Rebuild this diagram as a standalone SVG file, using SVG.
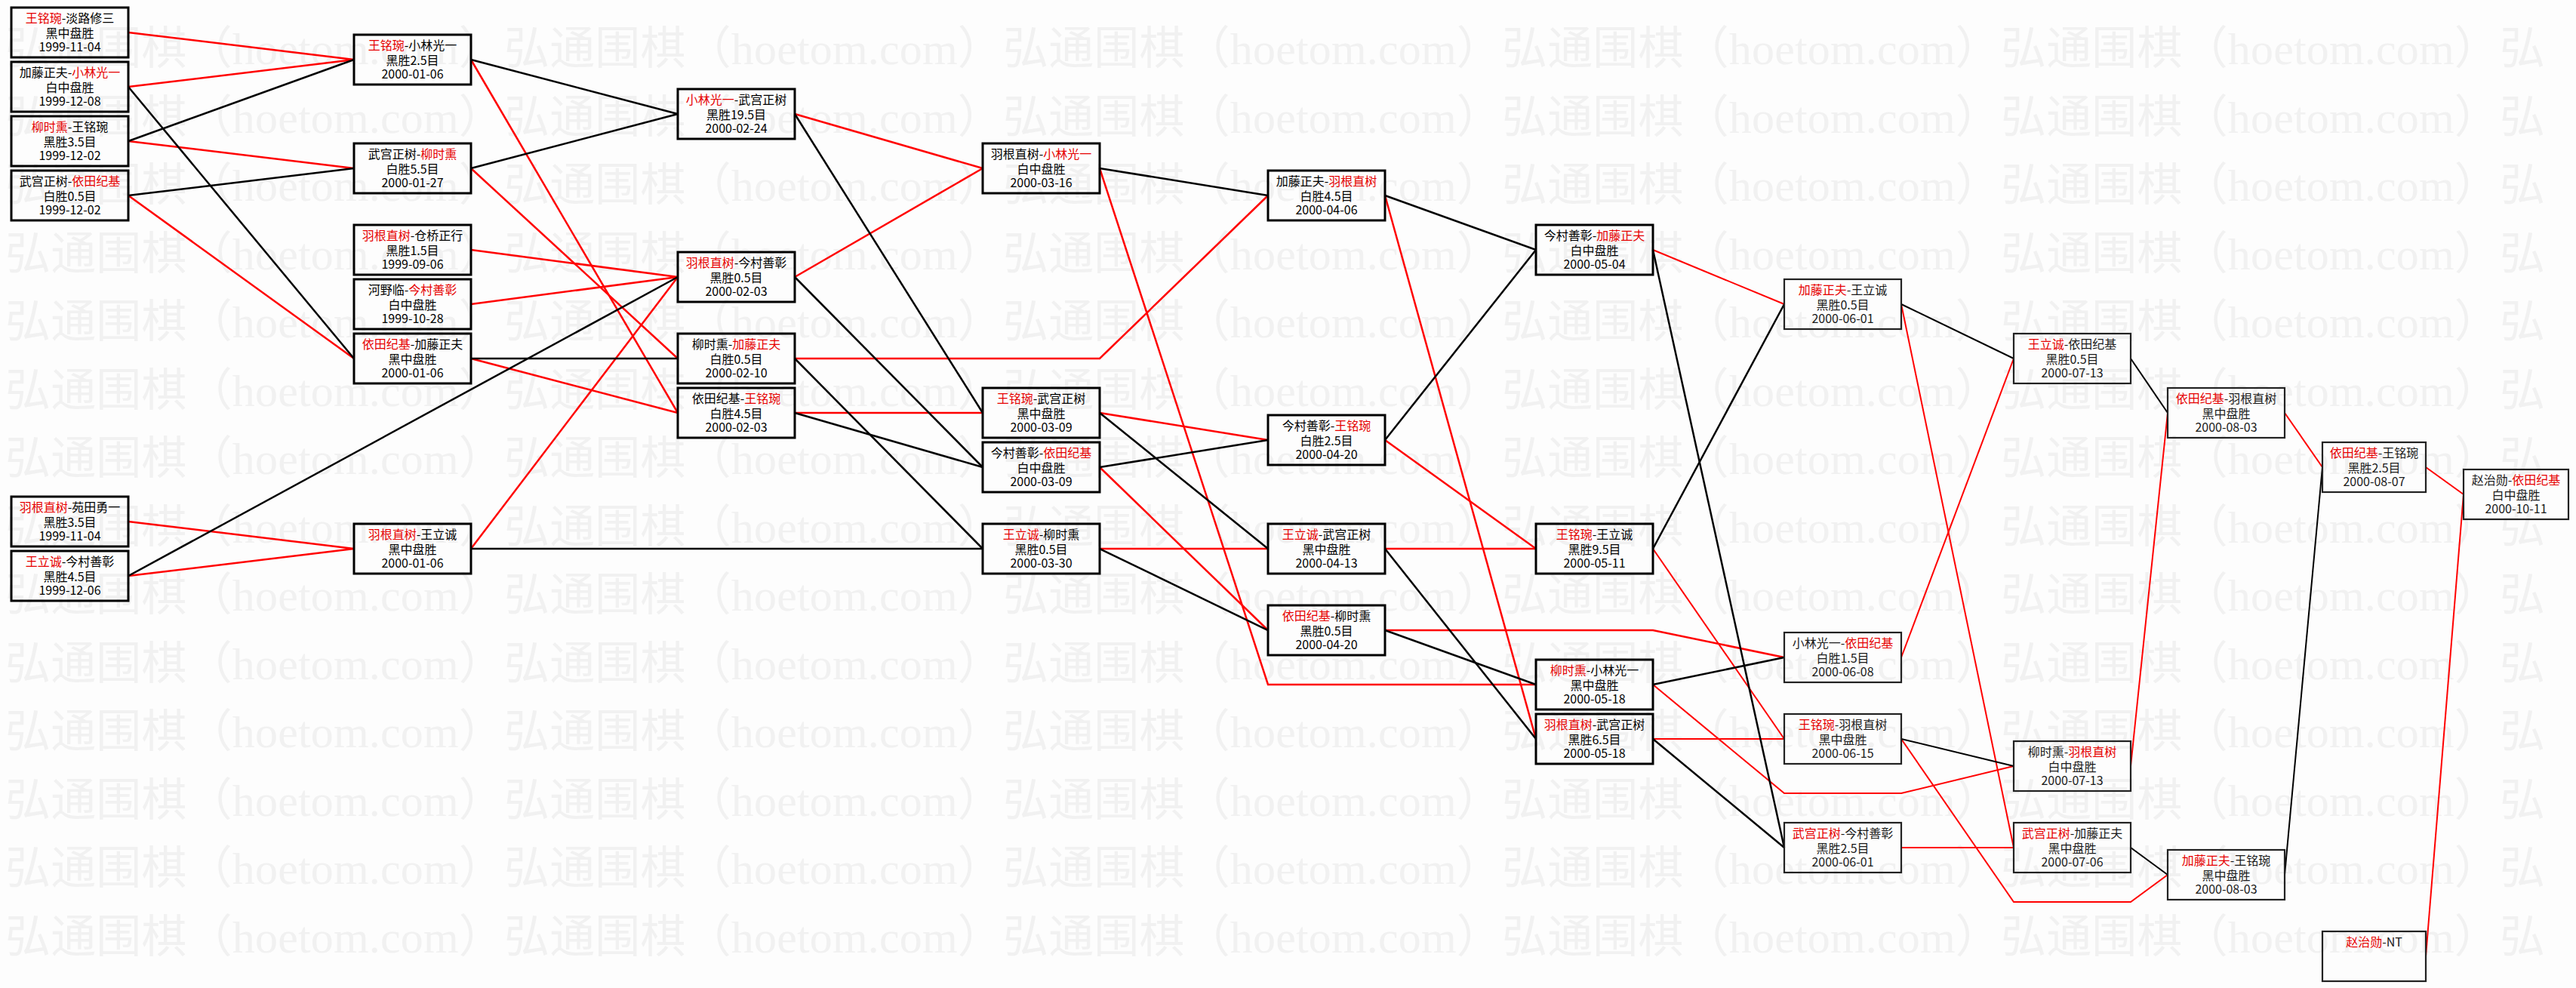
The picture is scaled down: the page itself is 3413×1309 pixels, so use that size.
<svg xmlns="http://www.w3.org/2000/svg" width="3413" height="1309" viewBox="0 0 3413 1309">
<style>
.bg{fill:#fdfdfd}
.wm{font-family:"Liberation Serif","Noto Sans CJK SC",serif;font-size:60px;fill:#f1f1f1}
.b1{fill:none;stroke:#000;stroke-width:3}
.b2{fill:none;stroke:#222;stroke-width:2.2}
.t{font-family:"Noto Sans CJK SC",sans-serif;font-size:16px;text-anchor:middle;fill:#000}
.t2{font-family:"Noto Sans CJK SC",sans-serif;font-size:16px;text-anchor:middle;fill:#1a1a1a}
.r{fill:#e60000}
.lr{fill:none;stroke:#f00;stroke-width:2.5;stroke-linejoin:miter}
.lb{fill:none;stroke:#000;stroke-width:2.5}
.lr2{fill:none;stroke:#f00;stroke-width:2}
.lb2{fill:none;stroke:#000;stroke-width:2}
</style>
<rect class="bg" x="0" y="0" width="3413" height="1309"/>
<g id="watermark">
<text class="wm" x="7" y="85" textLength="3365" lengthAdjust="spacing">弘通围棋（hoetom.com）弘通围棋（hoetom.com）弘通围棋（hoetom.com）弘通围棋（hoetom.com）弘通围棋（hoetom.com）弘</text>
<text class="wm" x="7" y="175.5" textLength="3365" lengthAdjust="spacing">弘通围棋（hoetom.com）弘通围棋（hoetom.com）弘通围棋（hoetom.com）弘通围棋（hoetom.com）弘通围棋（hoetom.com）弘</text>
<text class="wm" x="7" y="266" textLength="3365" lengthAdjust="spacing">弘通围棋（hoetom.com）弘通围棋（hoetom.com）弘通围棋（hoetom.com）弘通围棋（hoetom.com）弘通围棋（hoetom.com）弘</text>
<text class="wm" x="7" y="356.5" textLength="3365" lengthAdjust="spacing">弘通围棋（hoetom.com）弘通围棋（hoetom.com）弘通围棋（hoetom.com）弘通围棋（hoetom.com）弘通围棋（hoetom.com）弘</text>
<text class="wm" x="7" y="447" textLength="3365" lengthAdjust="spacing">弘通围棋（hoetom.com）弘通围棋（hoetom.com）弘通围棋（hoetom.com）弘通围棋（hoetom.com）弘通围棋（hoetom.com）弘</text>
<text class="wm" x="7" y="537.5" textLength="3365" lengthAdjust="spacing">弘通围棋（hoetom.com）弘通围棋（hoetom.com）弘通围棋（hoetom.com）弘通围棋（hoetom.com）弘通围棋（hoetom.com）弘</text>
<text class="wm" x="7" y="628" textLength="3365" lengthAdjust="spacing">弘通围棋（hoetom.com）弘通围棋（hoetom.com）弘通围棋（hoetom.com）弘通围棋（hoetom.com）弘通围棋（hoetom.com）弘</text>
<text class="wm" x="7" y="718.5" textLength="3365" lengthAdjust="spacing">弘通围棋（hoetom.com）弘通围棋（hoetom.com）弘通围棋（hoetom.com）弘通围棋（hoetom.com）弘通围棋（hoetom.com）弘</text>
<text class="wm" x="7" y="809" textLength="3365" lengthAdjust="spacing">弘通围棋（hoetom.com）弘通围棋（hoetom.com）弘通围棋（hoetom.com）弘通围棋（hoetom.com）弘通围棋（hoetom.com）弘</text>
<text class="wm" x="7" y="899.5" textLength="3365" lengthAdjust="spacing">弘通围棋（hoetom.com）弘通围棋（hoetom.com）弘通围棋（hoetom.com）弘通围棋（hoetom.com）弘通围棋（hoetom.com）弘</text>
<text class="wm" x="7" y="990" textLength="3365" lengthAdjust="spacing">弘通围棋（hoetom.com）弘通围棋（hoetom.com）弘通围棋（hoetom.com）弘通围棋（hoetom.com）弘通围棋（hoetom.com）弘</text>
<text class="wm" x="7" y="1080.5" textLength="3365" lengthAdjust="spacing">弘通围棋（hoetom.com）弘通围棋（hoetom.com）弘通围棋（hoetom.com）弘通围棋（hoetom.com）弘通围棋（hoetom.com）弘</text>
<text class="wm" x="7" y="1171" textLength="3365" lengthAdjust="spacing">弘通围棋（hoetom.com）弘通围棋（hoetom.com）弘通围棋（hoetom.com）弘通围棋（hoetom.com）弘通围棋（hoetom.com）弘</text>
<text class="wm" x="7" y="1261.5" textLength="3365" lengthAdjust="spacing">弘通围棋（hoetom.com）弘通围棋（hoetom.com）弘通围棋（hoetom.com）弘通围棋（hoetom.com）弘通围棋（hoetom.com）弘</text>
</g>
<g id="connectors">
<polyline class="lr" points="170,43 469,79"/>
<polyline class="lr" points="170,115 469,79"/>
<polyline class="lr" points="170,187 469,223"/>
<polyline class="lr" points="170,259 469,475"/>
<polyline class="lr" points="170,691 469,727"/>
<polyline class="lr" points="170,763 469,727"/>
<polyline class="lr" points="624,79 898,547"/>
<polyline class="lr" points="624,223 898,475"/>
<polyline class="lr" points="624,331 898,367"/>
<polyline class="lr" points="624,403 898,367"/>
<polyline class="lr" points="624,475 898,547"/>
<polyline class="lr" points="624,727 898,367"/>
<polyline class="lr" points="1053,151 1302,223"/>
<polyline class="lr" points="1053,367 1302,223"/>
<polyline class="lr" points="1053,475 1457,475 1680,259"/>
<polyline class="lr" points="1053,547 1302,547"/>
<polyline class="lr" points="1457,223 1680,907 2035,907"/>
<polyline class="lr" points="1457,547 1680,583"/>
<polyline class="lr" points="1457,619 1680,835"/>
<polyline class="lr" points="1457,727 1680,727"/>
<polyline class="lr" points="1835,259 2035,979"/>
<polyline class="lr" points="1835,583 2035,727"/>
<polyline class="lr" points="1835,727 2035,727"/>
<polyline class="lr" points="1835,835 2190,835 2364,871"/>
<polyline class="lr2" points="2190,331 2364,403"/>
<polyline class="lr2" points="2190,727 2364,979"/>
<polyline class="lr2" points="2190,907 2364,1051 2519,1051 2668,1015"/>
<polyline class="lr2" points="2190,979 2364,979"/>
<polyline class="lr2" points="2519,403 2668,1123"/>
<polyline class="lr2" points="2519,871 2668,475"/>
<polyline class="lr2" points="2519,979 2668,1195 2823,1195 2872,1159"/>
<polyline class="lr2" points="2519,1123 2668,1123"/>
<polyline class="lr2" points="2823,1015 2872,547"/>
<polyline class="lr2" points="3027,547 3077,619"/>
<polyline class="lr2" points="3214,619 3264,655"/>
<polyline class="lr2" points="3214,1267 3264,655"/>
<polyline class="lb" points="170,115 469,475"/>
<polyline class="lb" points="170,187 469,79"/>
<polyline class="lb" points="170,259 469,223"/>
<polyline class="lb" points="170,763 898,367"/>
<polyline class="lb" points="624,79 898,151"/>
<polyline class="lb" points="624,223 898,151"/>
<polyline class="lb" points="624,475 898,475"/>
<polyline class="lb" points="624,727 1302,727"/>
<polyline class="lb" points="1053,151 1302,547"/>
<polyline class="lb" points="1053,367 1302,619"/>
<polyline class="lb" points="1053,475 1302,727"/>
<polyline class="lb" points="1053,547 1302,619"/>
<polyline class="lb" points="1457,223 1680,259"/>
<polyline class="lb" points="1457,547 1680,727"/>
<polyline class="lb" points="1457,619 1680,583"/>
<polyline class="lb" points="1457,727 1680,835"/>
<polyline class="lb" points="1835,259 2035,331"/>
<polyline class="lb" points="1835,583 2035,331"/>
<polyline class="lb" points="1835,727 2035,979"/>
<polyline class="lb" points="1835,835 2035,907"/>
<polyline class="lb" points="2190,331 2364,1123"/>
<polyline class="lb" points="2190,727 2364,403"/>
<polyline class="lb" points="2190,907 2364,871"/>
<polyline class="lb" points="2190,979 2364,1123"/>
<polyline class="lb2" points="2519,403 2668,475"/>
<polyline class="lb2" points="2519,979 2668,1015"/>
<polyline class="lb2" points="2823,475 2872,547"/>
<polyline class="lb2" points="2823,1123 2872,1159"/>
<polyline class="lb2" points="3027,1159 3077,619"/>
</g>
<g id="A1"><rect class="b1" x="15" y="10" width="155" height="66"/><text class="t" x="92.5" y="30"><tspan class="r">王铭琬</tspan>-淡路修三</text><text class="t" x="92.5" y="50">黑中盘胜</text><text class="t" x="92.5" y="68">1999-11-04</text></g>
<g id="A2"><rect class="b1" x="15" y="82" width="155" height="66"/><text class="t" x="92.5" y="102">加藤正夫-<tspan class="r">小林光一</tspan></text><text class="t" x="92.5" y="122">白中盘胜</text><text class="t" x="92.5" y="140">1999-12-08</text></g>
<g id="A3"><rect class="b1" x="15" y="154" width="155" height="66"/><text class="t" x="92.5" y="174"><tspan class="r">柳时熏</tspan>-王铭琬</text><text class="t" x="92.5" y="194">黑胜3.5目</text><text class="t" x="92.5" y="212">1999-12-02</text></g>
<g id="A4"><rect class="b1" x="15" y="226" width="155" height="66"/><text class="t" x="92.5" y="246">武宫正树-<tspan class="r">依田纪基</tspan></text><text class="t" x="92.5" y="266">白胜0.5目</text><text class="t" x="92.5" y="284">1999-12-02</text></g>
<g id="A5"><rect class="b1" x="15" y="658" width="155" height="66"/><text class="t" x="92.5" y="678"><tspan class="r">羽根直树</tspan>-苑田勇一</text><text class="t" x="92.5" y="698">黑胜3.5目</text><text class="t" x="92.5" y="716">1999-11-04</text></g>
<g id="A6"><rect class="b1" x="15" y="730" width="155" height="66"/><text class="t" x="92.5" y="750"><tspan class="r">王立诚</tspan>-今村善彰</text><text class="t" x="92.5" y="770">黑胜4.5目</text><text class="t" x="92.5" y="788">1999-12-06</text></g>
<g id="B1"><rect class="b1" x="469" y="46" width="155" height="66"/><text class="t" x="546.5" y="66"><tspan class="r">王铭琬</tspan>-小林光一</text><text class="t" x="546.5" y="86">黑胜2.5目</text><text class="t" x="546.5" y="104">2000-01-06</text></g>
<g id="B2"><rect class="b1" x="469" y="190" width="155" height="66"/><text class="t" x="546.5" y="210">武宫正树-<tspan class="r">柳时熏</tspan></text><text class="t" x="546.5" y="230">白胜5.5目</text><text class="t" x="546.5" y="248">2000-01-27</text></g>
<g id="B3"><rect class="b1" x="469" y="298" width="155" height="66"/><text class="t" x="546.5" y="318"><tspan class="r">羽根直树</tspan>-仓桥正行</text><text class="t" x="546.5" y="338">黑胜1.5目</text><text class="t" x="546.5" y="356">1999-09-06</text></g>
<g id="B4"><rect class="b1" x="469" y="370" width="155" height="66"/><text class="t" x="546.5" y="390">河野临-<tspan class="r">今村善彰</tspan></text><text class="t" x="546.5" y="410">白中盘胜</text><text class="t" x="546.5" y="428">1999-10-28</text></g>
<g id="B5"><rect class="b1" x="469" y="442" width="155" height="66"/><text class="t" x="546.5" y="462"><tspan class="r">依田纪基</tspan>-加藤正夫</text><text class="t" x="546.5" y="482">黑中盘胜</text><text class="t" x="546.5" y="500">2000-01-06</text></g>
<g id="B6"><rect class="b1" x="469" y="694" width="155" height="66"/><text class="t" x="546.5" y="714"><tspan class="r">羽根直树</tspan>-王立诚</text><text class="t" x="546.5" y="734">黑中盘胜</text><text class="t" x="546.5" y="752">2000-01-06</text></g>
<g id="C1"><rect class="b1" x="898" y="118" width="155" height="66"/><text class="t" x="975.5" y="138"><tspan class="r">小林光一</tspan>-武宫正树</text><text class="t" x="975.5" y="158">黑胜19.5目</text><text class="t" x="975.5" y="176">2000-02-24</text></g>
<g id="C2"><rect class="b1" x="898" y="334" width="155" height="66"/><text class="t" x="975.5" y="354"><tspan class="r">羽根直树</tspan>-今村善彰</text><text class="t" x="975.5" y="374">黑胜0.5目</text><text class="t" x="975.5" y="392">2000-02-03</text></g>
<g id="C3"><rect class="b1" x="898" y="442" width="155" height="66"/><text class="t" x="975.5" y="462">柳时熏-<tspan class="r">加藤正夫</tspan></text><text class="t" x="975.5" y="482">白胜0.5目</text><text class="t" x="975.5" y="500">2000-02-10</text></g>
<g id="C4"><rect class="b1" x="898" y="514" width="155" height="66"/><text class="t" x="975.5" y="534">依田纪基-<tspan class="r">王铭琬</tspan></text><text class="t" x="975.5" y="554">白胜4.5目</text><text class="t" x="975.5" y="572">2000-02-03</text></g>
<g id="D1"><rect class="b1" x="1302" y="190" width="155" height="66"/><text class="t" x="1379.5" y="210">羽根直树-<tspan class="r">小林光一</tspan></text><text class="t" x="1379.5" y="230">白中盘胜</text><text class="t" x="1379.5" y="248">2000-03-16</text></g>
<g id="D2"><rect class="b1" x="1302" y="514" width="155" height="66"/><text class="t" x="1379.5" y="534"><tspan class="r">王铭琬</tspan>-武宫正树</text><text class="t" x="1379.5" y="554">黑中盘胜</text><text class="t" x="1379.5" y="572">2000-03-09</text></g>
<g id="D3"><rect class="b1" x="1302" y="586" width="155" height="66"/><text class="t" x="1379.5" y="606">今村善彰-<tspan class="r">依田纪基</tspan></text><text class="t" x="1379.5" y="626">白中盘胜</text><text class="t" x="1379.5" y="644">2000-03-09</text></g>
<g id="D4"><rect class="b1" x="1302" y="694" width="155" height="66"/><text class="t" x="1379.5" y="714"><tspan class="r">王立诚</tspan>-柳时熏</text><text class="t" x="1379.5" y="734">黑胜0.5目</text><text class="t" x="1379.5" y="752">2000-03-30</text></g>
<g id="E1"><rect class="b1" x="1680" y="226" width="155" height="66"/><text class="t" x="1757.5" y="246">加藤正夫-<tspan class="r">羽根直树</tspan></text><text class="t" x="1757.5" y="266">白胜4.5目</text><text class="t" x="1757.5" y="284">2000-04-06</text></g>
<g id="E2"><rect class="b1" x="1680" y="550" width="155" height="66"/><text class="t" x="1757.5" y="570">今村善彰-<tspan class="r">王铭琬</tspan></text><text class="t" x="1757.5" y="590">白胜2.5目</text><text class="t" x="1757.5" y="608">2000-04-20</text></g>
<g id="E3"><rect class="b1" x="1680" y="694" width="155" height="66"/><text class="t" x="1757.5" y="714"><tspan class="r">王立诚</tspan>-武宫正树</text><text class="t" x="1757.5" y="734">黑中盘胜</text><text class="t" x="1757.5" y="752">2000-04-13</text></g>
<g id="E4"><rect class="b1" x="1680" y="802" width="155" height="66"/><text class="t" x="1757.5" y="822"><tspan class="r">依田纪基</tspan>-柳时熏</text><text class="t" x="1757.5" y="842">黑胜0.5目</text><text class="t" x="1757.5" y="860">2000-04-20</text></g>
<g id="F1"><rect class="b1" x="2035" y="298" width="155" height="66"/><text class="t" x="2112.5" y="318">今村善彰-<tspan class="r">加藤正夫</tspan></text><text class="t" x="2112.5" y="338">白中盘胜</text><text class="t" x="2112.5" y="356">2000-05-04</text></g>
<g id="F2"><rect class="b1" x="2035" y="694" width="155" height="66"/><text class="t" x="2112.5" y="714"><tspan class="r">王铭琬</tspan>-王立诚</text><text class="t" x="2112.5" y="734">黑胜9.5目</text><text class="t" x="2112.5" y="752">2000-05-11</text></g>
<g id="F3"><rect class="b1" x="2035" y="874" width="155" height="66"/><text class="t" x="2112.5" y="894"><tspan class="r">柳时熏</tspan>-小林光一</text><text class="t" x="2112.5" y="914">黑中盘胜</text><text class="t" x="2112.5" y="932">2000-05-18</text></g>
<g id="F4"><rect class="b1" x="2035" y="946" width="155" height="66"/><text class="t" x="2112.5" y="966"><tspan class="r">羽根直树</tspan>-武宫正树</text><text class="t" x="2112.5" y="986">黑胜6.5目</text><text class="t" x="2112.5" y="1004">2000-05-18</text></g>
<g id="G1"><rect class="b2" x="2364" y="370" width="155" height="66"/><text class="t2" x="2441.5" y="390"><tspan class="r">加藤正夫</tspan>-王立诚</text><text class="t2" x="2441.5" y="410">黑胜0.5目</text><text class="t2" x="2441.5" y="428">2000-06-01</text></g>
<g id="G2"><rect class="b2" x="2364" y="838" width="155" height="66"/><text class="t2" x="2441.5" y="858">小林光一-<tspan class="r">依田纪基</tspan></text><text class="t2" x="2441.5" y="878">白胜1.5目</text><text class="t2" x="2441.5" y="896">2000-06-08</text></g>
<g id="G3"><rect class="b2" x="2364" y="946" width="155" height="66"/><text class="t2" x="2441.5" y="966"><tspan class="r">王铭琬</tspan>-羽根直树</text><text class="t2" x="2441.5" y="986">黑中盘胜</text><text class="t2" x="2441.5" y="1004">2000-06-15</text></g>
<g id="G4"><rect class="b2" x="2364" y="1090" width="155" height="66"/><text class="t2" x="2441.5" y="1110"><tspan class="r">武宫正树</tspan>-今村善彰</text><text class="t2" x="2441.5" y="1130">黑胜2.5目</text><text class="t2" x="2441.5" y="1148">2000-06-01</text></g>
<g id="H1"><rect class="b2" x="2668" y="442" width="155" height="66"/><text class="t2" x="2745.5" y="462"><tspan class="r">王立诚</tspan>-依田纪基</text><text class="t2" x="2745.5" y="482">黑胜0.5目</text><text class="t2" x="2745.5" y="500">2000-07-13</text></g>
<g id="H2"><rect class="b2" x="2668" y="982" width="155" height="66"/><text class="t2" x="2745.5" y="1002">柳时熏-<tspan class="r">羽根直树</tspan></text><text class="t2" x="2745.5" y="1022">白中盘胜</text><text class="t2" x="2745.5" y="1040">2000-07-13</text></g>
<g id="H3"><rect class="b2" x="2668" y="1090" width="155" height="66"/><text class="t2" x="2745.5" y="1110"><tspan class="r">武宫正树</tspan>-加藤正夫</text><text class="t2" x="2745.5" y="1130">黑中盘胜</text><text class="t2" x="2745.5" y="1148">2000-07-06</text></g>
<g id="I1"><rect class="b2" x="2872" y="514" width="155" height="66"/><text class="t2" x="2949.5" y="534"><tspan class="r">依田纪基</tspan>-羽根直树</text><text class="t2" x="2949.5" y="554">黑中盘胜</text><text class="t2" x="2949.5" y="572">2000-08-03</text></g>
<g id="I2"><rect class="b2" x="2872" y="1126" width="155" height="66"/><text class="t2" x="2949.5" y="1146"><tspan class="r">加藤正夫</tspan>-王铭琬</text><text class="t2" x="2949.5" y="1166">黑中盘胜</text><text class="t2" x="2949.5" y="1184">2000-08-03</text></g>
<g id="J1"><rect class="b2" x="3077" y="586" width="137" height="66"/><text class="t2" x="3145.5" y="606"><tspan class="r">依田纪基</tspan>-王铭琬</text><text class="t2" x="3145.5" y="626">黑胜2.5目</text><text class="t2" x="3145.5" y="644">2000-08-07</text></g>
<g id="J2"><rect class="b2" x="3077" y="1234" width="137" height="66"/><text class="t2" x="3145.5" y="1254"><tspan class="r">赵治勋</tspan>-NT</text></g>
<g id="K1"><rect class="b2" x="3264" y="622" width="139" height="66"/><text class="t2" x="3333.5" y="642">赵治勋-<tspan class="r">依田纪基</tspan></text><text class="t2" x="3333.5" y="662">白中盘胜</text><text class="t2" x="3333.5" y="680">2000-10-11</text></g>
</svg>
